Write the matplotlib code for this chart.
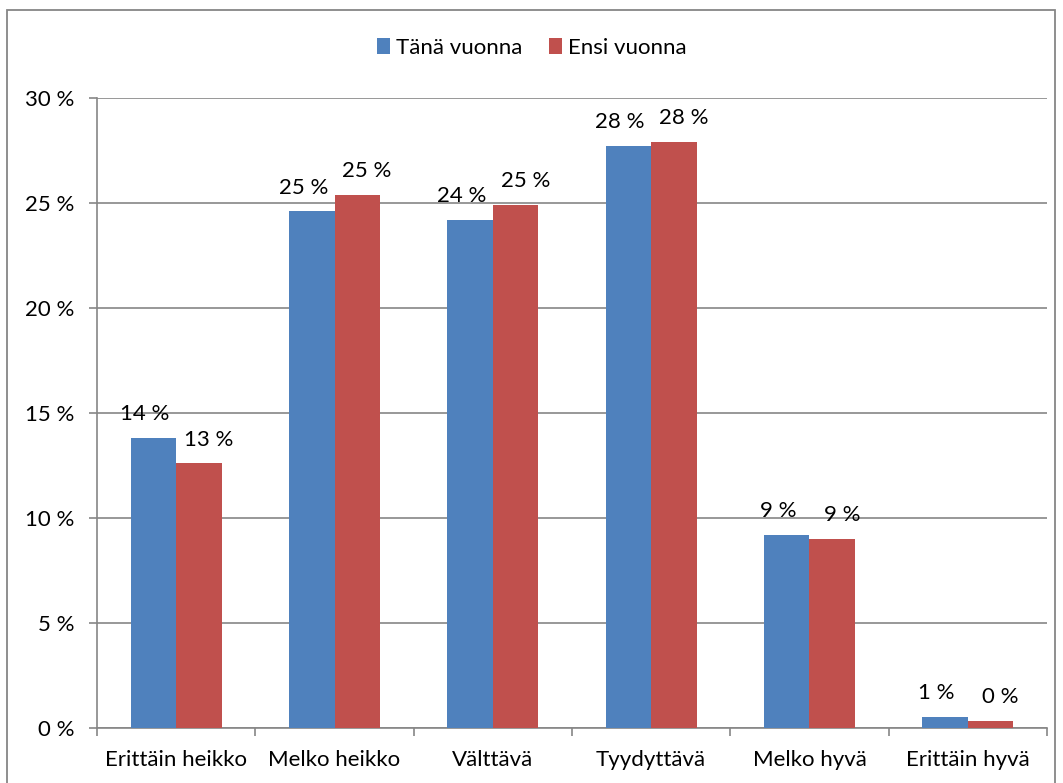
import matplotlib.pyplot as plt
from matplotlib.patches import Rectangle
from matplotlib.ticker import FuncFormatter
import numpy as np

plt.rcParams['font.family'] = ['Lato', 'DejaVu Sans']

categories = ["Erittäin heikko", "Melko heikko", "Välttävä", "Tyydyttävä", "Melko hyvä", "Erittäin hyvä"]
tana_vuonna = [13.8, 24.6, 24.2, 27.7, 9.2, 0.52]
ensi_vuonna = [12.6, 25.4, 24.9, 27.9, 9.0, 0.33]
series_names = ["Tänä vuonna", "Ensi vuonna"]

blue = "#4F81BD"
red = "#C0504D"
grid_col = "#868686"
fs = 16

fig = plt.figure(figsize=(10.63, 7.83), dpi=100)
ax = fig.add_axes([97 / 1063, 1 - 728 / 783, 950 / 1063, 630 / 783])

# outer chart border
fig.patches.append(Rectangle((7 / 1063, -0.05), 1048 / 1063, 1.05 - 10 / 783,
                             transform=fig.transFigure, fill=False,
                             edgecolor=grid_col, linewidth=1.3))

x = np.arange(len(categories))
w = 0.288
b1 = ax.bar(x - w / 2, tana_vuonna, w, color=blue, label=series_names[0], zorder=3)
b2 = ax.bar(x + w / 2, ensi_vuonna, w, color=red, label=series_names[1], zorder=3)

# labels pushed a bit apart so neighbouring ones don't collide
for bars, dx in ((b1, -6), (b2, 7)):
    for rect in bars:
        h = rect.get_height()
        ax.annotate(f"{h:.0f} %", (rect.get_x() + rect.get_width() / 2, h),
                    xytext=(dx, 10), textcoords="offset points",
                    ha="center", va="bottom", fontsize=fs, zorder=4)

ax.set_xlim(-0.5, len(categories) - 0.5)
ax.set_ylim(0, 30)
ax.set_yticks(np.arange(0, 31, 5))
ax.yaxis.set_major_formatter(FuncFormatter(lambda v, p: f"{v:.0f} %"))
ax.grid(axis="y", color=grid_col, linewidth=1.2, zorder=0)

ax.set_xticks(x)
ax.set_xticklabels(categories, fontsize=fs)
ax.set_xticks(np.arange(-0.5, len(categories)), minor=True)
ax.tick_params(axis="x", which="major", length=0, pad=16)
ax.tick_params(axis="x", which="minor", length=6, width=1.2, color=grid_col)
ax.tick_params(axis="y", length=6, width=1.2, color=grid_col, pad=10, labelsize=fs)

for s in ("top", "right"):
    ax.spines[s].set_visible(False)
for s in ("left", "bottom"):
    ax.spines[s].set_color(grid_col)
    ax.spines[s].set_linewidth(1.2)

fig.legend(handles=[b1, b2], loc="center", bbox_to_anchor=(0.5, 1 - 48 / 783),
           ncol=2, frameon=False, fontsize=fs, handlelength=0.6, handleheight=0.7,
           handletextpad=0.25, columnspacing=1.2)

fig.savefig("out.png", dpi=100)
